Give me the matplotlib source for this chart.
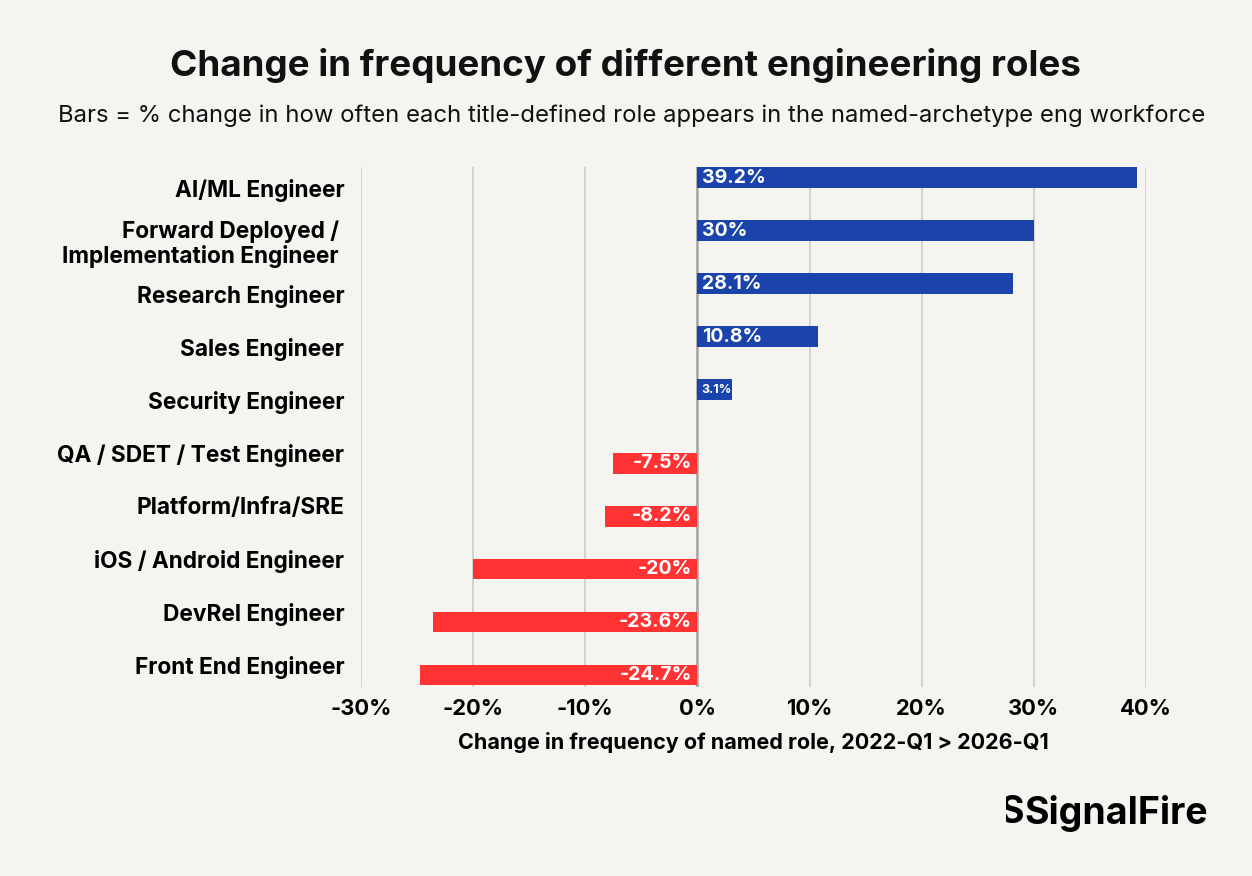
import matplotlib
matplotlib.use('Agg')
import matplotlib.pyplot as plt
import numpy as np
from matplotlib.patches import Rectangle

plt.rcParams['font.family'] = ['Inter', 'DejaVu Sans']

# data
roles = ['AI/ML Engineer', 'Forward Deployed / \nImplementation Engineer ', 'Research Engineer',
         'Sales Engineer', 'Security Engineer', 'QA / SDET / Test Engineer', 'Platform/Infra/SRE',
         'iOS / Android Engineer', 'DevRel Engineer', 'Front End Engineer']
change = [39.2, 30, 28.1, 10.8, 3.1, -7.5, -8.2, -20, -23.6, -24.7]
value_labels = ['39.2%', '30%', '28.1%', '10.8%', '3.1%', '-7.5%', '-8.2%', '-20%', '-23.6%', '-24.7%']
xticks = [-30, -20, -10, 0, 10, 20, 30, 40]

bg = '#f5f4f0'
blue = '#1a44ab'
red = '#ff3334'

fig = plt.figure(figsize=(12.52, 8.76), dpi=100, facecolor=bg)
ax = fig.add_axes([0.2883, 0.2158, 0.9153 - 0.2883, 0.8094 - 0.2158])
ax.set_facecolor(bg)

y = np.arange(len(roles))
h = 0.39
for i, v in enumerate(change):
	if v >= 0:
		# positive series sits in the upper half of the slot
		ax.barh(y[i] - h / 2, v, height=h, color=blue, zorder=3)
		fs = 9 if abs(v) < 5 else 14
		ax.text(0.4, y[i] - h / 2, value_labels[i], color='white', fontsize=fs,
		        fontweight='bold', ha='left', va='center', zorder=4)
	else:
		ax.barh(y[i] + h / 2, v, height=h, color=red, zorder=3)
		ax.text(-0.5, y[i] + h / 2, value_labels[i], color='white', fontsize=14,
		        fontweight='bold', ha='right', va='center', zorder=4)

ax.set_ylim(len(roles) - 1 + 0.42, -0.4)
ax.set_xlim(-30, 40)
ax.set_yticks(y)
ax.set_yticklabels(roles, fontsize=16.3, fontweight='bold', linespacing=1.1)
ax.set_xticks(xticks)
ax.set_xticklabels(['%d%%' % t for t in xticks], fontsize=15.8, fontweight='bold')
ax.tick_params(axis='both', length=0)
ax.tick_params(axis='x', pad=9)
ax.tick_params(axis='y', pad=12)
ax.grid(axis='x', color='#cfcdc8', lw=1.2, zorder=0)
ax.axvline(0, color='#a8a6a2', lw=1.8, zorder=2)
for s in ax.spines.values():
	s.set_visible(False)

ax.set_xlabel('Change in frequency of named role, 2022-Q1 > 2026-Q1', fontsize=15.5,
              fontweight='bold', labelpad=9)

fig.text(0.5, 0.925, 'Change in frequency of different engineering roles', ha='center', va='center',
         fontsize=26.5, fontweight='bold', color='#111111')
fig.text(0.5044, 0.868, 'Bars = % change in how often each title-defined role appears in the named-archetype eng workforce',
         ha='center', va='center', fontsize=17.2, color='#111111')

# logo
fig.text(0.9645, 0.0715, 'SignalFire', ha='right', va='center', fontsize=27, fontweight='bold',
         color='black')
s = fig.text(1012 / 1252, 0.0715, 'S', ha='center', va='center', fontsize=27, fontweight='bold', color='black')
clip = Rectangle((1006, 0), 17, 876, transform=None)
s.set_clip_path(clip)

fig.savefig('out.png', dpi=100, facecolor=bg)
